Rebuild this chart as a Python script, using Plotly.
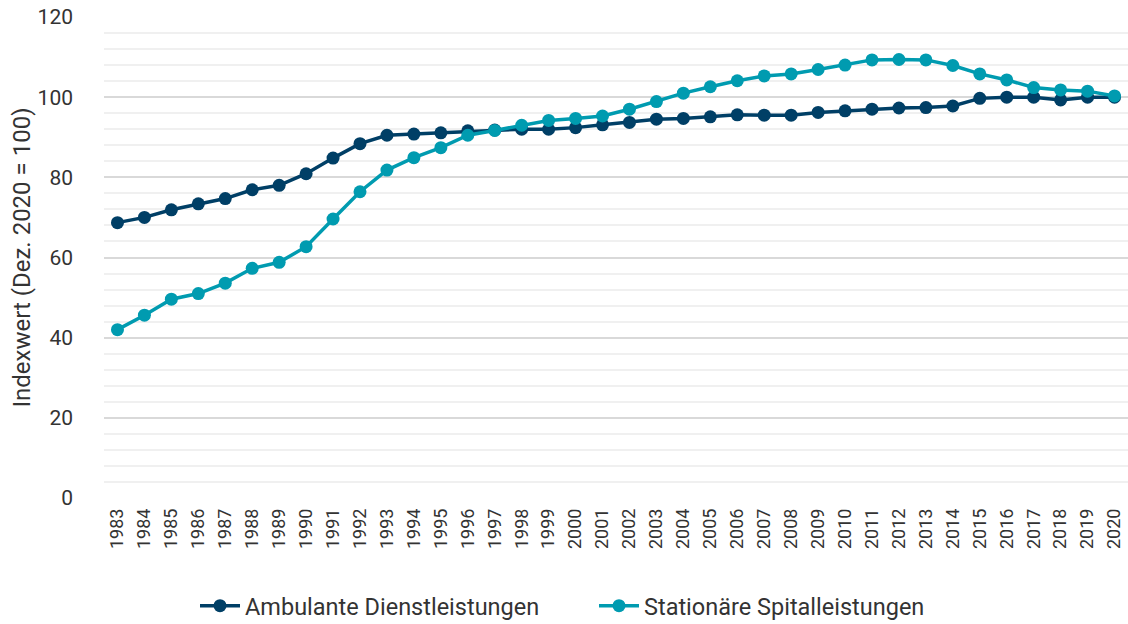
import plotly.graph_objects as go

years = [str(y) for y in range(1983, 2021)]

ambulant = [68.7, 70.0, 71.9, 73.4, 74.7, 76.9, 78.0, 80.9, 84.8, 88.4,
            90.5, 90.8, 91.1, 91.6, 91.8, 92.0, 92.0, 92.4, 93.1, 93.7,
            94.5, 94.7, 95.1, 95.6, 95.5, 95.5, 96.2, 96.6, 97.0, 97.3,
            97.4, 97.8, 99.7, 100.0, 100.0, 99.3, 100.0, 100.0]

stationaer = [42.0, 45.6, 49.6, 51.0, 53.6, 57.3, 58.8, 62.7, 69.6, 76.4,
              81.8, 84.9, 87.4, 90.5, 91.7, 93.0, 94.2, 94.7, 95.3, 97.0,
              98.9, 101.0, 102.6, 104.1, 105.3, 105.8, 106.9, 108.0, 109.3, 109.4,
              109.3, 107.9, 105.8, 104.3, 102.4, 101.8, 101.5, 100.3]

names = ["Ambulante Dienstleistungen", "Stationäre Spitalleistungen"]
colors = ["#003f66", "#009bb0"]

FONT = "Roboto"
TXT = "#333333"

fig = go.Figure()
for vals, name, col in zip([ambulant, stationaer], names, colors):
    fig.add_trace(go.Scatter(
        x=years, y=vals, name=name, mode="lines+markers",
        line=dict(color=col, width=3.5),
        marker=dict(color=col, size=13),
    ))

fig.update_layout(
    width=1128, height=624,
    margin=dict(l=104, r=0, t=17, b=126, autoexpand=False),
    paper_bgcolor="white", plot_bgcolor="white",
    font=dict(family=FONT, color=TXT),
    showlegend=True,
    legend=dict(orientation="h", xref="container", yref="container",
                x=0.5266, xanchor="center", y=0.029, yanchor="middle",
                font=dict(size=23.5, color=TXT), itemwidth=40,
                entrywidth=344, entrywidthmode="pixels",
                tracegroupgap=0),
)
fig.update_xaxes(
    type="category", range=[-0.5, 37.5], automargin=False,
    tickangle=-90, tickfont=dict(size=18, color=TXT),
    showgrid=False, zeroline=False, showline=False,
    ticks="", ticklabelstandoff=6,
)
fig.update_yaxes(
    range=[0, 120], dtick=20, automargin=False,
    tickfont=dict(size=21, color=TXT),
    title=dict(text="Indexwert (Dez. 2020 = 100)", font=dict(size=24, color=TXT), standoff=0),
    showgrid=True, gridcolor="#d9d9d9", gridwidth=1.5,
    minor=dict(dtick=4, showgrid=True, gridcolor="#f0f0f0", gridwidth=1.5),
    zeroline=False, showline=False, ticks="", ticklabelstandoff=30,
)

fig.write_html("out.html", config={"displayModeBar": False},
               post_script="document.body.style.margin='0';")
